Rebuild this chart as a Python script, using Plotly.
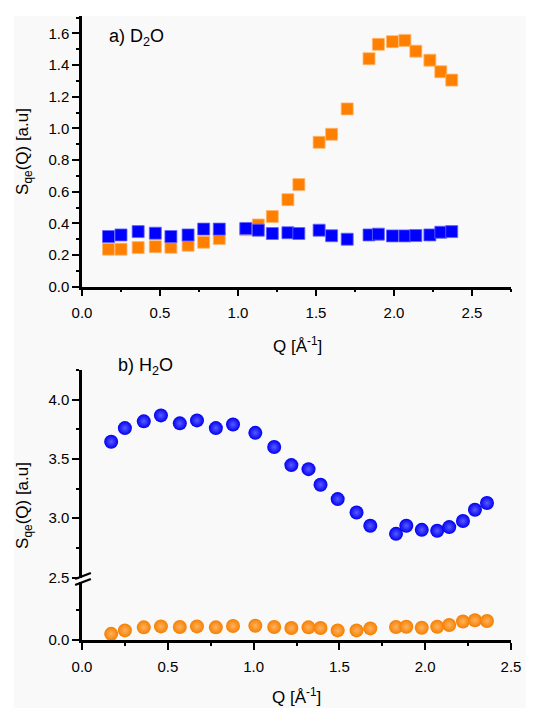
import plotly.graph_objects as go

# ---------------- data ----------------
# a) D2O
q_d2o = [0.17, 0.25, 0.36, 0.47, 0.57, 0.68, 0.78, 0.88, 1.05, 1.13, 1.22, 1.32,
         1.39, 1.52, 1.60, 1.70, 1.84, 1.90, 1.99, 2.07, 2.14, 2.23, 2.30, 2.37]
d2o_blue = [0.317, 0.327, 0.348, 0.338, 0.317, 0.327, 0.364, 0.364, 0.368, 0.357, 0.336, 0.341,
            0.336, 0.357, 0.322, 0.300, 0.327, 0.332, 0.321, 0.321, 0.323, 0.327, 0.344, 0.348]
d2o_orange = [0.237, 0.237, 0.247, 0.253, 0.249, 0.262, 0.281, 0.304, 0.360, 0.390, 0.443, 0.550,
              0.645, 0.912, 0.963, 1.123, 1.440, 1.531, 1.548, 1.556, 1.488, 1.431, 1.358, 1.305]

# b) H2O
q_h2o = [0.17, 0.25, 0.36, 0.46, 0.57, 0.67, 0.78, 0.88, 1.01, 1.12, 1.22, 1.32,
         1.39, 1.49, 1.60, 1.68, 1.83, 1.89, 1.98, 2.07, 2.14, 2.22, 2.29, 2.36]
h2o_blue = [3.645, 3.760, 3.817, 3.867, 3.800, 3.825, 3.760, 3.790, 3.720, 3.600, 3.448, 3.414,
            3.282, 3.161, 3.048, 2.936, 2.868, 2.936, 2.902, 2.894, 2.925, 2.976, 3.071, 3.128]
h2o_orange = [0.052, 0.081, 0.107, 0.115, 0.110, 0.115, 0.107, 0.118, 0.121, 0.110, 0.101, 0.107,
              0.101, 0.081, 0.081, 0.098, 0.110, 0.112, 0.104, 0.112, 0.127, 0.156, 0.167, 0.161]

x_ticks_top = [0.0, 0.5, 1.0, 1.5, 2.0, 2.5]
x_ticks_bot = [0.0, 0.5, 1.0, 1.5, 2.0, 2.5]
y_ticks_top = [0.0, 0.2, 0.4, 0.6, 0.8, 1.0, 1.2, 1.4, 1.6]
y_ticks_upper = [2.5, 3.0, 3.5, 4.0]
y_ticks_lower = [0.0]

BLUE = "#0000FF"
ORANGE = "#FF8000"
FONT = "Liberation Sans"

# ---------------- geometry helpers (pixel -> paper) ----------------
L, R, T, B = 82, 518, 16, 640
W, H = R - L, B - T


def px(x):
    return (x - L) / W


def py(y):
    return (B - y) / H


fig = go.Figure()

# top panel
fig.add_trace(go.Scatter(x=q_d2o, y=d2o_orange, mode="markers", xaxis="x", yaxis="y",
                         marker=dict(symbol="square", size=12, color=ORANGE,
                                     line=dict(width=0.8, color="#FFB870")),
                         showlegend=False))
fig.add_trace(go.Scatter(x=q_d2o, y=d2o_blue, mode="markers", xaxis="x", yaxis="y",
                         marker=dict(symbol="square", size=12, color=BLUE,
                                     line=dict(width=0.8, color="#6666FF")),
                         showlegend=False))

# bottom panel
fig.add_trace(go.Scatter(x=q_h2o, y=h2o_blue, mode="markers", xaxis="x2", yaxis="y4",
                         marker=dict(symbol="circle", size=14, color="#0000F2",
                                     gradient=dict(type="radial", color="#5A5AFF"),
                                     line=dict(width=0)),
                         showlegend=False))
fig.add_trace(go.Scatter(x=q_h2o, y=h2o_orange, mode="markers", xaxis="x2", yaxis="y3",
                         marker=dict(symbol="circle", size=14, color="#F57F00",
                                     gradient=dict(type="radial", color="#FFB25E"),
                                     line=dict(width=0)),
                         showlegend=False))

axis_common = dict(showline=True, linecolor="black", linewidth=2.5, ticks="outside",
                   ticklen=7, tickwidth=2, tickcolor="black", showgrid=False, zeroline=False,
                   tickfont=dict(family=FONT, size=15, color="black"), mirror=False)

fig.update_layout(
    width=533, height=708,
    margin=dict(l=L, r=533 - R, t=T, b=708 - B, pad=0),
    paper_bgcolor="white", plot_bgcolor="rgba(0,0,0,0)",
    xaxis=dict(domain=[0, 1], anchor="y", range=[0, 2.75], tickvals=x_ticks_top,
               tickformat=".1f", ticklabelstandoff=4,
               minor=dict(dtick=0.25, tick0=0, ticklen=3, tickwidth=2, ticks="outside",
                          tickcolor="black", showgrid=False),
               **axis_common),
    yaxis=dict(domain=[py(286.7), 1], anchor="x", range=[0, 1.71], tickvals=y_ticks_top,
               tickformat=".1f",
               minor=dict(dtick=0.1, tick0=0, ticklen=3, tickwidth=2, ticks="outside",
                          tickcolor="black", showgrid=False),
               **axis_common),
    xaxis2=dict(domain=[0, 1], anchor="y3", range=[0, 2.5], tickvals=x_ticks_bot,
                tickformat=".1f", ticklabelstandoff=4,
                minor=dict(dtick=0.25, tick0=0, ticklen=3, tickwidth=2, ticks="outside",
                           tickcolor="black", showgrid=False),
                **axis_common),
    yaxis3=dict(domain=[0, py(582)], anchor="x2", range=[0, 0.49], tickvals=y_ticks_lower,
                tickformat=".1f",
                minor=dict(tickmode="array", tickvals=[0.25], ticklen=3, tickwidth=2,
                           ticks="outside", tickcolor="black", showgrid=False),
                **axis_common),
    yaxis4=dict(domain=[py(577.5), py(370)], anchor="x2", range=[2.5, 4.25],
                tickvals=y_ticks_upper, tickformat=".1f",
                minor=dict(dtick=0.25, tick0=2.5, ticklen=3, tickwidth=2, ticks="outside",
                           tickcolor="black", showgrid=False),
                **axis_common),
)

# background panel (light grey area of the original picture)
fig.add_shape(type="rect", xref="paper", yref="paper", x0=px(13), x1=px(533),
              y0=py(708), y1=py(16), fillcolor="#F9F9F9", line=dict(width=0), layer="below")

# axis break marks
for y_off in (0, 6):
    fig.add_shape(type="line", xref="paper", yref="paper",
                  x0=px(75), y0=py(579 + y_off), x1=px(91), y1=py(573 + y_off),
                  line=dict(color="black", width=2.2))

ann_font = dict(family=FONT, size=18, color="black")
title_font = dict(family=FONT, size=17, color="black")
fig.add_annotation(x=px(107), y=py(38), xref="paper", yref="paper", xanchor="left",
                   yanchor="middle", text="a) D<sub>2</sub>O", showarrow=False, font=ann_font)
fig.add_annotation(x=px(117), y=py(366), xref="paper", yref="paper", xanchor="left",
                   yanchor="middle", text="b) H<sub>2</sub>O", showarrow=False, font=ann_font)
fig.add_annotation(x=px(301), y=py(345), xref="paper", yref="paper", xanchor="center",
                   yanchor="middle", text="Q [Å<sup>-1</sup>]", showarrow=False, font=title_font)
fig.add_annotation(x=px(300), y=py(696), xref="paper", yref="paper", xanchor="center",
                   yanchor="middle", text="Q [Å<sup>-1</sup>]", showarrow=False, font=title_font)
fig.add_annotation(x=px(23), y=py(151), xref="paper", yref="paper", xanchor="center",
                   yanchor="middle", text="S<sub>qe</sub>(Q) [a.u]", textangle=-90,
                   showarrow=False, font=title_font)
fig.add_annotation(x=px(23), y=py(505), xref="paper", yref="paper", xanchor="center",
                   yanchor="middle", text="S<sub>qe</sub>(Q) [a.u]", textangle=-90,
                   showarrow=False, font=title_font)

fig.write_html("out.html")
